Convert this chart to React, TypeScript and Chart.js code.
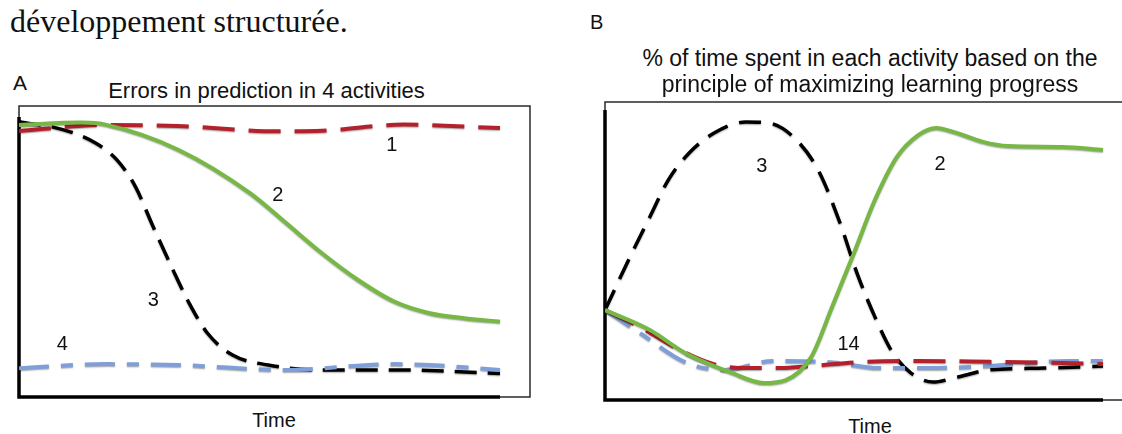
import React, { useEffect, useRef } from "react";
import { Chart, registerables } from "chart.js";

Chart.register(...registerables);

// ---------- Panel A: errors in prediction (time 0..100, error 0..100) ----------
const timeA1 = [0, 18, 33, 54, 63, 80, 100];
const errorA1 = [91.4, 93.5, 93.1, 91.3, 91.5, 93.6, 92.4];
const timeA2 = [0, 13, 18.2, 33.2, 48.1, 55.6, 63, 70.5, 78, 85.4, 92.9, 100];
const errorA2 = [93.5, 94.3, 93.5, 84.9, 70, 59.7, 49.4, 40.2, 32.8, 28.8, 27, 25.9];
const timeA3 = [0, 9.3, 16, 20.4, 24.2, 27.9, 31.7, 35.4, 39.2, 44.4, 51.8, 63, 78, 100];
const errorA3 = [94.6, 91.8, 87.2, 81.4, 72.3, 58.5, 44.8, 32.2, 21.9, 14.4, 11, 9.3, 9.3, 8.1];
const timeA4 = [0, 18.2, 33, 55.6, 78, 85.4, 100];
const errorA4 = [9.9, 11.3, 11, 9.3, 11.3, 11, 9.3];

// ---------- Panel B: % of time spent (time 0..100, share 0..100) ----------
const timeB1 = [0, 7, 15, 21.7, 28.5, 35.1, 41.4, 52.2, 62.9, 77.3, 91.8, 100];
const shareB1 = [30.2, 24.5, 16.8, 12.1, 10.7, 10.7, 11.4, 12.8, 13.1, 12.8, 12.4, 12.1];
const timeB2 = [0, 9, 16.1, 25.5, 31.9, 36.3, 41.4, 45.6, 50, 54.2, 58.6, 62.9, 66.5, 70.1, 75.9, 80.9, 91.8, 100];
const shareB2 = [30.2, 23.5, 15.8, 9.1, 5.7, 6.7, 14.4, 31.2, 49.3, 67.1, 81.5, 88.9, 91.3, 89.9, 86.6, 85.2, 84.9, 83.9];
const timeB3 = [0, 5.4, 9, 12.7, 16.9, 21.9, 28.3, 32.7, 37.8, 42.8, 47.2, 50.6, 54.2, 57.8, 61.4, 65.9, 70.1, 77.3, 88.2, 100];
const shareB3 = [30.2, 49.3, 61.4, 73.8, 82.9, 89.6, 93.3, 93, 88.3, 77.2, 59.4, 42.6, 27.9, 15.8, 9.1, 6, 7.4, 10.1, 10.7, 11.4];
const timeB4 = [0, 7, 16.5, 24, 33.7, 44.6, 55, 65, 77, 93, 100];
const shareB4 = [30.2, 22.5, 12.4, 10.1, 13.1, 12.8, 10.7, 10.7, 11.4, 13.1, 13.1];

// curve labels (text, time, value)
const labelTextA = ["1", "2", "3", "4"];
const labelTimeA = [77.5, 53.8, 27.9, 9];
const labelValueA = [86.6, 69.4, 33.3, 17.9];
const labelTextB = ["3", "2", "14"];
const labelTimeB = [31.5, 67.3, 48.9];
const labelValueB = [78.2, 78.9, 18.5];

const SANS = '"Liberation Sans", Arial, Helvetica, sans-serif';
const SERIF = '"Liberation Serif", "Times New Roman", serif';

const RED = "#b3222c";
const GREEN = "#77b844";
const BLACK = "#000000";
const BLUE = "#7f9fd9";

type Series = { t: number[]; v: number[]; color: string; dash: number[]; width: number };

const PAD = 10;

function buildConfig(
  series: Series[],
  xMax: number,
  dataEnd: number,
  axisGap: number,
  lbText: string[],
  lbT: number[],
  lbV: number[]
): any {
  const shadowPlugin = {
    id: "lineShadow",
    beforeDatasetDraw(chart: any) {
      const ctx = chart.ctx;
      ctx.shadowColor = "rgba(0,0,0,0.35)";
      ctx.shadowOffsetX = 0;
      ctx.shadowOffsetY = 1;
      ctx.shadowBlur = 1.5;
    },
    afterDatasetDraw(chart: any) {
      const ctx = chart.ctx;
      ctx.shadowColor = "rgba(0,0,0,0)";
      ctx.shadowBlur = 0;
      ctx.shadowOffsetY = 0;
    },
  };
  const framePlugin = {
    id: "frame",
    beforeDatasetsDraw(chart: any) {
      const { ctx, chartArea: a, scales } = chart;
      const xEnd = scales.x.getPixelForValue(dataEnd);
      ctx.save();
      ctx.strokeStyle = "#1a1a1a";
      ctx.lineWidth = 1.4;
      ctx.strokeRect(a.left, a.top, a.right - a.left, a.bottom - a.top);
      ctx.strokeStyle = "#000";
      ctx.lineWidth = 3.5;
      ctx.lineCap = "butt";
      ctx.beginPath();
      ctx.moveTo(a.left, a.top + axisGap);
      ctx.lineTo(a.left, a.bottom);
      ctx.lineTo(xEnd, a.bottom);
      ctx.stroke();
      ctx.restore();
    },
  };
  const labelPlugin = {
    id: "curveLabels",
    afterDatasetsDraw(chart: any) {
      const { ctx, scales } = chart;
      ctx.save();
      ctx.fillStyle = "#111";
      ctx.font = `20px ${SANS}`;
      ctx.textAlign = "center";
      ctx.textBaseline = "middle";
      lbText.forEach((txt, i) => {
        ctx.fillText(txt, scales.x.getPixelForValue(lbT[i]), scales.y.getPixelForValue(lbV[i]));
      });
      ctx.restore();
    },
  };
  return {
    type: "line",
    data: {
      datasets: series.map((s) => ({
        data: s.t.map((t, i) => ({ x: t, y: s.v[i] })),
        borderColor: s.color,
        borderWidth: s.width,
        borderDash: s.dash,
        borderCapStyle: "butt",
        pointRadius: 0,
        fill: false,
        cubicInterpolationMode: "monotone",
      })),
    },
    options: {
      animation: false,
      responsive: false,
      events: [],
      layout: { padding: PAD },
      plugins: { legend: { display: false }, tooltip: { enabled: false } },
      scales: {
        x: { type: "linear", min: 0, max: xMax, display: false },
        y: { type: "linear", min: 0, max: 100, display: false },
      },
    },
    plugins: [framePlugin, shadowPlugin, labelPlugin],
  };
}

const seriesA: Series[] = [
  { t: timeA2, v: errorA2, color: GREEN, dash: [], width: 4 },
  { t: timeA4, v: errorA4, color: BLUE, dash: [30, 12, 12, 12], width: 4 },
  { t: timeA1, v: errorA1, color: RED, dash: [32, 14], width: 4 },
  { t: timeA3, v: errorA3, color: BLACK, dash: [22, 11], width: 3.5 },
];

const seriesB: Series[] = [
  { t: timeB2, v: shareB2, color: GREEN, dash: [], width: 4 },
  { t: timeB1, v: shareB1, color: RED, dash: [32, 14], width: 4 },
  { t: timeB4, v: shareB4, color: BLUE, dash: [30, 12, 12, 12], width: 4 },
  { t: timeB3, v: shareB3, color: BLACK, dash: [22, 12], width: 3.5 },
];

// Box geometry (pixels in page)
const A_LEFT = 19, A_TOP = 106, A_W = 511, A_H = 291;
const B_LEFT = 605, B_TOP = 102, B_W = 530, B_H = 298;

function Txt(props: {
  x: number; baseline: number; size: number; serif?: boolean; center?: boolean; children: React.ReactNode;
}) {
  const k = props.serif ? 0.8375 : 0.8465;
  const top = props.baseline - k * props.size;
  const style: React.CSSProperties = {
    position: "absolute",
    top,
    fontFamily: props.serif ? SERIF : SANS,
    fontSize: props.size,
    lineHeight: `${props.size}px`,
    color: "#111",
    whiteSpace: "nowrap",
  };
  if (props.center) {
    style.left = props.x - 400;
    style.width = 800;
    style.textAlign = "center";
  } else {
    style.left = props.x;
  }
  return <div style={style}>{props.children}</div>;
}

export default function App() {
  const refA = useRef<HTMLCanvasElement>(null);
  const refB = useRef<HTMLCanvasElement>(null);

  useEffect(() => {
    document.body.style.margin = "0";
    const xMaxA = (100 * A_W) / 481;
    const xMaxB = (100 * B_W) / 498;
    const a = new Chart(
      refA.current as HTMLCanvasElement,
      buildConfig(seriesA, xMaxA, 100, 11, labelTextA, labelTimeA, labelValueA)
    );
    const b = new Chart(
      refB.current as HTMLCanvasElement,
      buildConfig(seriesB, xMaxB, 100, 8, labelTextB, labelTimeB, labelValueB)
    );
    return () => {
      a.destroy();
      b.destroy();
    };
  }, []);

  return (
    <div
      style={{
        position: "absolute",
        left: 0,
        top: 0,
        width: 1122,
        height: 434,
        overflow: "hidden",
        background: "#fff",
      }}
    >
      <Txt x={10} baseline={31.7} size={32} serif>
        développement structurée.
      </Txt>

      <Txt x={13} baseline={90} size={21}>A</Txt>
      <Txt x={266.5} baseline={99} size={22} center>
        Errors in prediction in 4 activities
      </Txt>
      <canvas
        ref={refA}
        width={A_W + 2 * PAD}
        height={A_H + 2 * PAD}
        style={{ position: "absolute", left: A_LEFT - PAD, top: A_TOP - PAD }}
      />
      <Txt x={274} baseline={426.7} size={20} center>Time</Txt>

      <Txt x={590} baseline={29} size={20}>B</Txt>
      <Txt x={870} baseline={66} size={23} center>
        % of time spent in each activity based on the
      </Txt>
      <Txt x={870} baseline={92} size={23} center>
        principle of maximizing learning progress
      </Txt>
      <canvas
        ref={refB}
        width={B_W + 2 * PAD}
        height={B_H + 2 * PAD}
        style={{ position: "absolute", left: B_LEFT - PAD, top: B_TOP - PAD }}
      />
      <Txt x={870} baseline={433} size={20} center>Time</Txt>
    </div>
  );
}
